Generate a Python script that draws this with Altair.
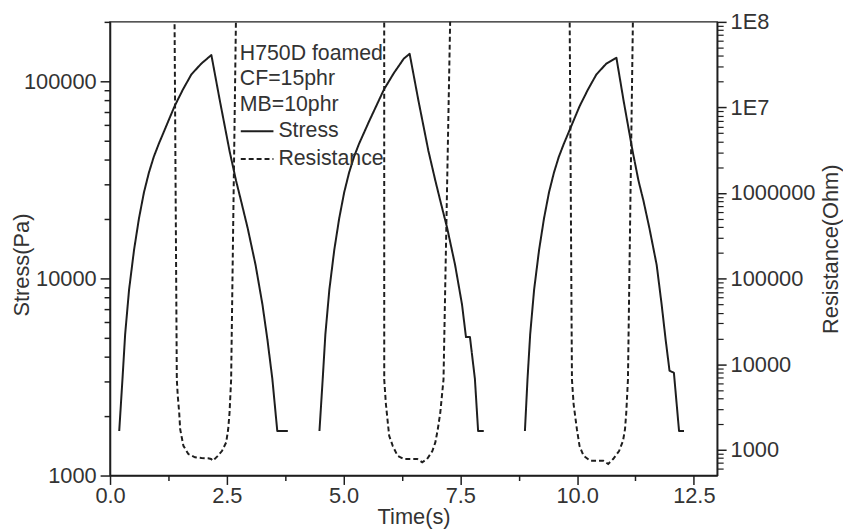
import altair as alt
import pandas as pd

# ---------------- data ----------------
# Stress (Pa), three loading cycles
s1_t = [0.197, 0.267, 0.324, 0.408, 0.514, 0.620, 0.726, 0.832, 0.937, 1.043, 1.381, 1.561, 1.741, 1.952, 2.170,
        2.354, 2.559, 2.699, 2.805, 2.947, 3.116, 3.263, 3.369, 3.475, 3.581, 3.807]
s1_v = [1683, 3097, 5212, 8770, 13930, 20170, 27260, 34360, 41370, 48060, 74600, 90800, 108200, 122700, 135800,
        79100, 44300, 31260, 24770, 17990, 11700, 7380, 4910, 3097, 1683, 1683]
s2_t = [4.484, 4.554, 4.611, 4.696, 4.801, 4.907, 5.013, 5.118, 5.224, 5.330, 5.548, 5.865, 6.077, 6.288, 6.415,
        6.606, 6.817, 6.966, 7.071, 7.219, 7.388, 7.536, 7.621, 7.706, 7.812, 7.881, 8.002]
s2_v = [1683, 3097, 5212, 8770, 13930, 20170, 27260, 34360, 41370, 48060, 62700, 90800, 110000, 130000, 137800,
        79100, 44300, 31260, 24770, 17990, 11700, 7380, 5040, 5040, 3097, 1683, 1683]
s3_t = [8.883, 8.939, 8.996, 9.080, 9.186, 9.292, 9.398, 9.504, 9.609, 9.715, 10.053, 10.233, 10.413, 10.624, 10.842,
        10.998, 11.188, 11.315, 11.421, 11.548, 11.704, 11.810, 11.895, 11.979, 12.073, 12.183, 12.289]
s3_v = [1683, 3097, 5212, 8770, 13930, 20170, 27260, 34360, 41370, 48060, 74600, 90800, 108200, 122700, 131500,
        79100, 44300, 31260, 24770, 17990, 11700, 7380, 4910, 3400, 3320, 1683, 1683]

# Resistance (Ohm); 1e9 = reading above the 1E8 top of the axis (off scale)
res_t = [0.20, 1.37, 1.43, 1.451, 1.481, 1.502, 1.571, 1.677, 1.819, 1.96, 2.100, 2.164, 2.206, 2.297, 2.396,
         2.487, 2.530, 2.559, 2.593, 2.72,
         5.87, 5.871, 5.907, 5.977, 6.055, 6.155, 6.294, 6.44, 6.578, 6.684, 6.789, 6.901, 6.965, 7.018, 7.071,
         7.140, 7.316,
         9.83, 9.890, 9.926, 9.996, 10.053, 10.138, 10.279, 10.42, 10.561, 10.666, 10.772, 10.899, 10.983, 11.026,
         11.053, 11.089, 11.22, 12.30]
res_v = [1e9, 1e9, 6607, 4227, 2717, 1738, 1113, 892, 816, 800, 795, 780, 745, 838, 966,
         1218, 1738, 2717, 6607, 1e9,
         1e9, 6607, 3400, 1454, 1104, 852, 780, 778, 780, 714, 780, 966, 1218, 1738, 2717,
         6607, 1e9,
         1e9, 6607, 3400, 1738, 1104, 852, 745, 745, 745, 683, 780, 966, 1272, 1738,
         2717, 6607, 1e9, 1e9]

x_major = [0, 2.5, 5, 7.5, 10, 12.5]
x_minor = [1.25, 3.75, 6.25, 8.75, 11.25]
stress_major = [1000, 10000, 100000]
stress_minor = [2000, 3000, 4000, 5000, 6000, 7000, 8000, 9000,
                20000, 30000, 40000, 50000, 60000, 70000, 80000, 90000, 200000]
res_major = [1e3, 1e4, 1e5, 1e6, 1e7, 1e8]
res_minor = [600, 700, 800, 900] + [m * 10**e for e in range(3, 8) for m in range(2, 10)]

legend_title = ["H750D foamed", "CF=15phr", "MB=10phr"]
series_names = ["Stress", "Resistance"]

# ---------------- frames ----------------
stress_t = s1_t + s2_t + s3_t
stress_v = s1_v + s2_v + s3_v
stress_cycle = [1] * len(s1_t) + [2] * len(s2_t) + [3] * len(s3_t)
df_s = pd.DataFrame({"t": stress_t, "v": stress_v, "cycle": stress_cycle,
                     "series": "Stress", "i": range(len(stress_t))})
df_r = pd.DataFrame({"t": res_t, "v": res_v, "series": "Resistance", "i": range(len(res_t))})

FONT = "Liberation Sans"
TXT = "#333333"
INK = "#1e1e1e"

xs = alt.Scale(domain=[0, 13], nice=False, zero=False)
ys_s = alt.Scale(type="log", domain=[1000, 200000], nice=False)
ys_r = alt.Scale(type="log", domain=[500, 1e8], nice=False)

common_axis = dict(grid=False, domainColor=INK, tickColor=INK, domainWidth=1.5, tickWidth=1.5,
                   labelFont=FONT, labelFontSize=22, labelColor=TXT,
                   titleFont=FONT, titleFontSize=22, titleColor=TXT, titleFontWeight="normal",
                   labelOverlap=False)

x_axis_major = alt.Axis(orient="bottom", values=x_major, format=".1f", tickSize=9, labelPadding=1,
                        labelFlush=False, title="Time(s)", titleY=41, titleBaseline="middle",
                        **common_axis)
x_axis_minor = alt.Axis(orient="bottom", values=x_minor, tickSize=5, labels=False, domain=False,
                        title="", grid=False, tickColor=INK, tickWidth=1.5)

y_axis_s = alt.Axis(orient="left", values=stress_major, format="d", tickSize=10, labelPadding=4,
                    title="Stress(Pa)", titleAngle=270, titleX=-89, titleY=245,
                    titleBaseline="middle", titleAlign="center", **common_axis)
y_axis_s_minor = alt.Axis(orient="left", values=stress_minor, tickSize=6, labels=False, domain=False,
                          title="", grid=False, tickColor=INK, tickWidth=1.5)

y_axis_r = alt.Axis(orient="right", values=res_major, tickSize=9, labelPadding=4,
                    labelExpr="datum.value >= 1e7 ? '1E' + round(log(datum.value) / LN10) : format(datum.value, 'd')",
                    title="Resistance(Ohm)", titleAngle=270, titleX=114.5, titleY=229,
                    titleBaseline="middle", titleAlign="center", **common_axis)
y_axis_r_minor = alt.Axis(orient="right", values=res_minor, tickSize=6, labels=False, domain=False,
                          title="", grid=False, tickColor=INK, tickWidth=1.2)

dash_scale = alt.Scale(domain=series_names, range=[[1, 0], [5, 3]])
legend = alt.Legend(orient="none", legendX=131, legendY=21, title=legend_title,
                    titleFont=FONT, titleFontSize=21.5, titleFontWeight="normal", titleColor=TXT,
                    titleLineHeight=26, titlePadding=-1.5, titleAnchor="start",
                    labelFont=FONT, labelFontSize=21.5, labelColor=TXT, labelOffset=4,
                    symbolType="stroke", symbolSize=1089, symbolStrokeWidth=2,
                    symbolStrokeColor=INK, rowPadding=0, padding=0)

stress = alt.Chart(df_s).mark_line(color=INK, strokeWidth=2, strokeJoin="round").encode(
    x=alt.X("t:Q", scale=xs, axis=x_axis_major),
    y=alt.Y("v:Q", scale=ys_s, axis=y_axis_s),
    detail="cycle:N",
    order="i:Q",
    strokeDash=alt.StrokeDash("series:N", scale=dash_scale, legend=legend),
)
stress_minor = alt.Chart(df_s).mark_line(opacity=0).encode(
    x=alt.X("t:Q", scale=xs, axis=x_axis_minor),
    y=alt.Y("v:Q", scale=ys_s, axis=y_axis_s_minor),
    detail="cycle:N",
)
resist = alt.Chart(df_r).mark_line(color=INK, strokeWidth=2, clip=True).encode(
    x=alt.X("t:Q", scale=xs, axis=None),
    y=alt.Y("v:Q", scale=ys_r, axis=y_axis_r),
    order="i:Q",
    strokeDash=alt.StrokeDash("series:N", scale=dash_scale, legend=legend),
)
resist_minor = alt.Chart(df_r).mark_line(opacity=0, clip=True).encode(
    x=alt.X("t:Q", scale=xs, axis=None),
    y=alt.Y("v:Q", scale=ys_r, axis=y_axis_r_minor),
)

chart = alt.layer(stress, stress_minor, resist, resist_minor).resolve_scale(
    x="independent", y="independent"
).properties(
    width=613, height=458,
    autosize=alt.AutoSizeParams(type="none"),
    padding={"left": 103, "top": 11.5, "right": 127, "bottom": 54},
    background="white",
).configure_view(stroke=INK, strokeWidth=1.5)

chart.save("out.html", embed_options={"renderer": "svg", "actions": False})
